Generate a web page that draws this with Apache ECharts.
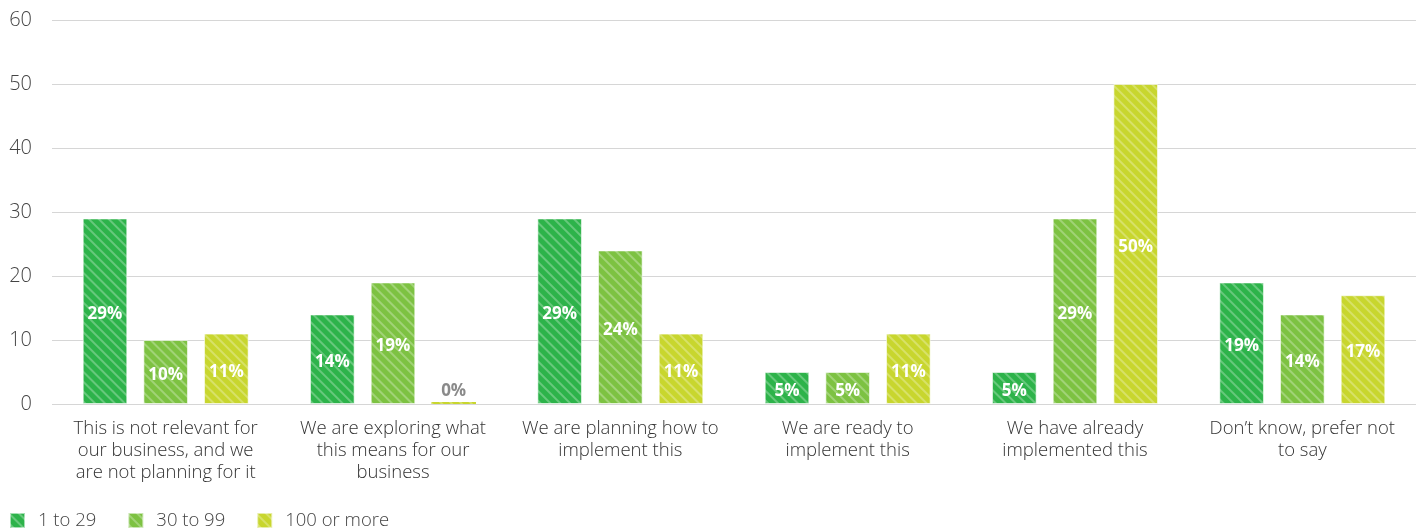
<!DOCTYPE html>
<html>
<head>
<meta charset="utf-8">
<script src="https://cdn.jsdelivr.net/npm/echarts@6/dist/echarts.min.js"></script>
<style>
  html, body { margin: 0; padding: 0; background: #fff; }
  #chart { width: 1416px; height: 530px; }
</style>
</head>
<body>
<div id="chart"></div>
<script>
const categories = [
  "This is not relevant for\nour business, and we\nare not planning for it",
  "We are exploring what\nthis means for our\nbusiness",
  "We are planning how to\nimplement this",
  "We are ready to\nimplement this",
  "We have already\nimplemented this",
  "Don’t know, prefer not\nto say"
];
const small = [29, 14, 29, 5, 5, 19];
const medium = [10, 19, 24, 5, 29, 14];
const large = [11, 0, 11, 11, 50, 17];
const seriesNames = ["1 to 29", "30 to 99", "100 or more"];
const colorList = ["#2db34a", "#7dc242", "#c8d62e"];

// white diagonal hatching on the bars ("\" direction)
const stripes = {
  symbol: "rect",
  color: "rgba(255,255,255,0.28)",
  dashArrayX: [1, 0],
  dashArrayY: [1.5, 5],
  rotation: Math.PI / 4
};

function makeSeries(name, data, index) {
  return {
    name: name,
    type: "bar",
    barMinHeight: 2,
    data: data.map(v => v === 0
      ? {
          value: v,
          itemStyle: { borderWidth: 0 },
          label: { position: "top", color: "#8a8a8a", distance: 2, offset: [0, 0] }
        }
      : v),
    itemStyle: {
      color: colorList[index],
      decal: stripes,
      borderColor: "rgba(255,255,255,0.35)",
      borderWidth: 1
    },
    label: {
      show: true,
      position: "inside",
      offset: [0, 3],
      formatter: "{c}%",
      color: "#fff",
      fontWeight: "bold",
      fontSize: 17,
      fontFamily: "Open Sans"
    }
  };
}

const chart = echarts.init(document.getElementById("chart"));
chart.setOption({
  animation: false,
  textStyle: { fontFamily: "Open Sans" },
  grid: { left: 52, right: 0, top: 20, bottom: 126 },
  legend: {
    left: 4,
    bottom: -5,
    itemWidth: 15,
    itemHeight: 15,
    itemGap: 31,
    icon: "rect",
    textStyle: {
      color: "#444",
      fontSize: 18.5,
      fontWeight: 300,
      fontFamily: "Open Sans",
      padding: [0, 0, 0, 8]
    },
    data: seriesNames
  },
  xAxis: {
    type: "category",
    data: categories,
    axisLine: { show: false },
    axisTick: { show: false },
    axisLabel: {
      interval: 0,
      color: "#333",
      fontSize: 18.5,
      fontWeight: 300,
      lineHeight: 22,
      margin: 14
    }
  },
  yAxis: {
    type: "value",
    min: 0,
    max: 60,
    interval: 10,
    axisLabel: { color: "#444", fontSize: 20, fontWeight: 300, margin: 20 },
    splitLine: { lineStyle: { color: "#d6d6d6", width: 1 } }
  },
  series: [
    Object.assign(makeSeries(seriesNames[0], small, 0), { barGap: "36%", barCategoryGap: "27%" }),
    makeSeries(seriesNames[1], medium, 1),
    makeSeries(seriesNames[2], large, 2)
  ]
});
</script>
</body>
</html>
